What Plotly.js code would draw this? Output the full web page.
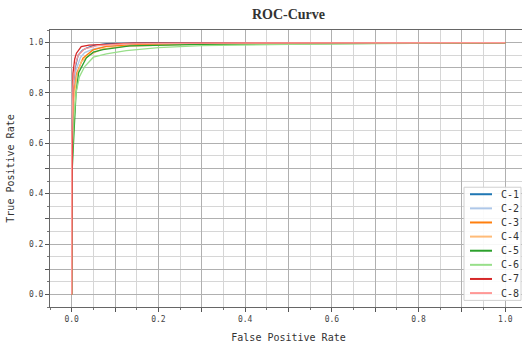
<!DOCTYPE html>
<html>
<head>
<meta charset="utf-8">
<script src="https://cdn.plot.ly/plotly-3.0.1.min.js"></script>
<style>
html, body { margin: 0; padding: 0; overflow: hidden; background: #fff; }
#chart { width: 527px; height: 343px; }
</style>
</head>
<body>
<div id="chart"></div>
<script>
// ROC curves (False Positive Rate, True Positive Rate)
const names = ["C-1", "C-2", "C-3", "C-4", "C-5", "C-6", "C-7", "C-8"];
const colors = ["#1f77b4", "#aec7e8", "#ff7f0e", "#ffbb78", "#2ca02c", "#98df8a", "#d62728", "#ff9896"];

const fpr1 = [0, 0, 0.003, 0.008, 0.015, 0.025, 0.034, 0.05, 0.08, 0.15, 0.3, 0.6, 1.0];
const tpr1 = [0, 0.55, 0.80, 0.90, 0.95, 0.97, 0.978, 0.988, 0.996, 0.998, 0.999, 1.0, 1.0];

const fpr2 = [0, 0, 0.004, 0.01, 0.02, 0.03, 0.05, 0.08, 0.15, 0.3, 0.52, 1.0];
const tpr2 = [0, 0.5, 0.78, 0.89, 0.94, 0.96, 0.975, 0.985, 0.992, 0.995, 1.0, 1.0];

const fpr3 = [0, 0, 0.005, 0.012, 0.026, 0.049, 0.08, 0.15, 0.3, 0.6, 1.0];
const tpr3 = [0, 0.57, 0.80, 0.88, 0.938, 0.971, 0.985, 0.992, 0.995, 0.998, 1.0];

const fpr4 = [0, 0, 0.005, 0.012, 0.022, 0.042, 0.07, 0.12, 0.25, 0.5, 1.0];
const tpr4 = [0, 0.55, 0.78, 0.87, 0.924, 0.951, 0.975, 0.985, 0.992, 0.996, 1.0];

const fpr5 = [0, 0, 0.005, 0.01, 0.016, 0.034, 0.05, 0.072, 0.134, 0.3, 0.7, 1.0];
const tpr5 = [0, 0.45, 0.63, 0.80, 0.88, 0.94, 0.962, 0.972, 0.987, 0.993, 0.997, 1.0];

const fpr6 = [0, 0, 0.005, 0.01, 0.018, 0.03, 0.05, 0.08, 0.126, 0.2, 0.3, 0.5, 1.0];
const tpr6 = [0, 0.5, 0.70, 0.80, 0.865, 0.905, 0.942, 0.955, 0.968, 0.98, 0.988, 0.993, 1.0];

const fpr7 = [0, 0, 0.001, 0.002, 0.003, 0.007, 0.011, 0.022, 0.04, 0.14, 0.98, 1.0];
const tpr7 = [0, 0.18, 0.38, 0.70, 0.878, 0.935, 0.958, 0.984, 0.99, 0.998, 1.0, 1.0];

const fpr8 = [0, 0, 0.003, 0.008, 0.015, 0.03, 0.06, 0.12, 0.3, 1.0];
const tpr8 = [0, 0.6, 0.82, 0.91, 0.95, 0.975, 0.988, 0.995, 0.998, 1.0];

const fprs = [fpr1, fpr2, fpr3, fpr4, fpr5, fpr6, fpr7, fpr8];
const tprs = [tpr1, tpr2, tpr3, tpr4, tpr5, tpr6, tpr7, tpr8];

const majorVals = [0, 0.1, 0.2, 0.3, 0.4, 0.5, 0.6, 0.7, 0.8, 0.9, 1.0];
const majorText = ["0.0", "", "0.2", "", "0.4", "", "0.6", "", "0.8", "", "1.0"];

const mono = "DejaVu Sans Mono, monospace";

const traces = names.map((n, i) => ({
  x: fprs[i], y: tprs[i], name: n, type: "scatter", mode: "lines",
  line: { color: colors[i], width: 1.3 }
}));

function axis(titleText, standoff) {
  return {
    range: [-0.05, 1.05],
    tickmode: "array", tickvals: majorVals, ticktext: majorText,
    ticks: "outside", ticklen: 4, tickwidth: 1, tickcolor: "#555",
    tickfont: { family: mono, size: 8, color: "#444" },
    showgrid: true, gridcolor: "#b0b0b0", gridwidth: 1,
    minor: { dtick: 0.05, tick0: 0, showgrid: true, gridcolor: "#d6d6d6", gridwidth: 1, ticks: "outside", ticklen: 2, tickcolor: "#777" },
    showline: true, mirror: true, linecolor: "#666", linewidth: 1,
    zeroline: false,
    title: { text: titleText, font: { family: mono, size: 10, color: "#333" }, standoff: standoff }
  };
}

// legend box drawn in plot-paper coordinates (matplotlib-style compact legend)
const plotL = 50, plotW = 477, plotB = 306.6, plotH = 276.6;
const px = v => (v - plotL) / plotW;
const py = v => (plotB - v) / plotH;
const shapes = [{
  type: "rect", xref: "paper", yref: "paper",
  x0: px(464), x1: px(521), y0: py(300), y1: py(187),
  fillcolor: "rgba(255,255,255,0.9)", line: { color: "#d0d0d0", width: 1 }, layer: "above"
}];
const annotations = [];
names.forEach((n, i) => {
  const rowY = 194 + 14.1 * i;
  shapes.push({
    type: "line", xref: "paper", yref: "paper",
    x0: px(470), x1: px(492), y0: py(rowY), y1: py(rowY),
    line: { color: colors[i], width: 2 }, layer: "above"
  });
  annotations.push({
    xref: "paper", yref: "paper", x: px(499), y: py(rowY),
    xanchor: "left", yanchor: "middle", showarrow: false,
    text: n, font: { family: mono, size: 10, color: "#333" }
  });
});

const layout = {
  width: 527, height: 343,
  margin: { l: 50, r: 0, t: 30, b: 36.4 },
  paper_bgcolor: "#fff", plot_bgcolor: "#fff",
  title: { text: "<b>ROC-Curve</b>", font: { family: "Liberation Serif, Times New Roman, serif", size: 14, color: "#333" },
           x: 0.5, xref: "paper", xanchor: "center", y: 0.959, yref: "container", yanchor: "middle" },
  xaxis: axis("False Positive Rate", 12),
  yaxis: axis("True Positive Rate", 12),
  showlegend: false,
  shapes: shapes,
  annotations: annotations
};

Plotly.newPlot("chart", traces, layout, { displayModeBar: false, staticPlot: true });
</script>
</body>
</html>
